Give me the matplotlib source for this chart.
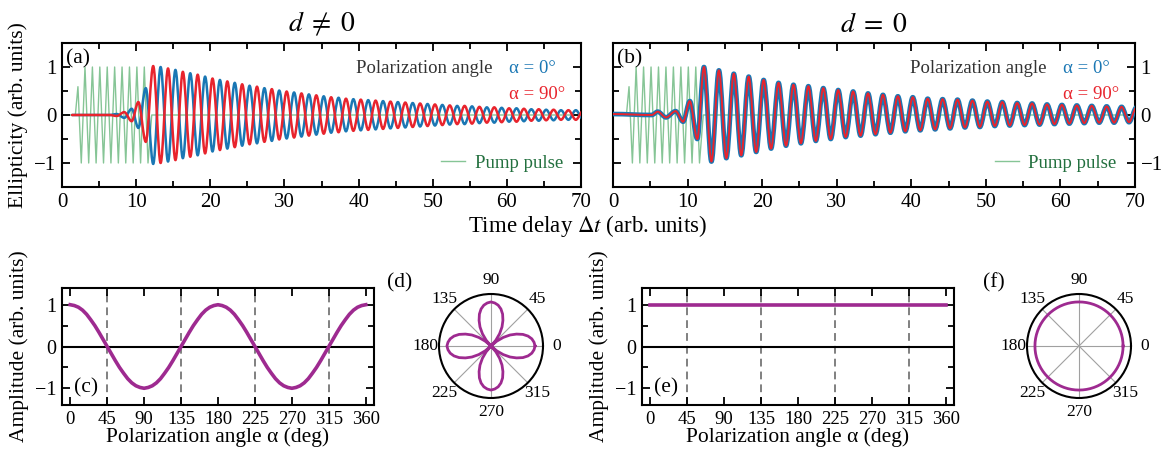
import numpy as np
import matplotlib
matplotlib.use("Agg")
import matplotlib.pyplot as plt
from matplotlib.path import Path
from matplotlib.patches import PathPatch
from matplotlib.ticker import MultipleLocator

plt.rcParams["font.family"] = ["Liberation Serif", "DejaVu Serif"]
plt.rcParams["mathtext.fontset"] = "stix"
plt.rcParams["axes.linewidth"] = 1.5

# ---- data -------------------------------------------------------------
# pump pulse (turning points)
t_pump = [0.0, 1.8, 2.15, 2.6, 3.1, 3.6, 4.1, 4.6, 5.1, 5.6, 6.1, 6.6, 7.1, 7.6,
          8.1, 8.6, 9.1, 9.6, 10.1, 10.6, 11.1, 11.6, 12.1, 70.0]
pump = [0.0, 0.0, 0.59, -1, 1, -1, 1, -1, 1, -1, 1, -1, 1, -1,
        1, -1, 1, -1, 1, -1, 1, -1, 0.0, 0.0]

# d != 0 : ellipticity extrema for alpha = 0 deg (alpha = 90 deg is mirrored)
t_a = [1.35, 6.4, 7.4, 8.4, 9.4, 10.3, 11.3,
       12.3, 13.3, 14.3, 15.3, 16.3, 17.3, 18.3, 19.3, 20.3, 21.3,
       22.3, 23.3, 24.3, 25.3, 26.3, 27.3, 28.3, 29.3, 30.3, 31.3,
       32.3, 33.3, 34.3, 35.3, 36.3, 37.3, 38.3, 39.3, 40.3, 41.3,
       42.3, 43.3, 44.3, 45.3, 46.3, 47.3, 48.3, 49.3, 50.3, 51.3,
       52.3, 53.3, 54.3, 55.3, 56.3, 57.3, 58.3, 59.3, 60.3, 61.3,
       62.3, 63.3, 64.3, 65.3, 66.3, 67.3, 68.3, 69.3, 70.3]
ell_a = [0.0, 0.0, 0.02, -0.06, 0.13, -0.27, 0.56,
         -1.02, 1.0, -0.97, 0.94, -0.9, 0.87, -0.84, 0.8, -0.76, 0.73,
         -0.7, 0.67, -0.64, 0.61, -0.59, 0.56, -0.54, 0.51, -0.49, 0.47,
         -0.45, 0.43, -0.41, 0.39, -0.37, 0.36, -0.34, 0.33, -0.32, 0.31,
         -0.3, 0.29, -0.28, 0.27, -0.26, 0.25, -0.24, 0.23, -0.22, 0.21,
         -0.2, 0.19, -0.19, 0.18, -0.17, 0.16, -0.16, 0.15, -0.14, 0.14,
         -0.13, 0.12, -0.12, 0.11, -0.11, 0.1, -0.1, 0.1, -0.09]

# d = 0 : both polarizations give the same trace
t_b = [0.0, 5.2, 6.0, 7.1, 8.4, 9.4, 10.3, 11.3,
       12.2, 13.2, 14.2, 15.2, 16.2, 17.2, 18.2, 19.2, 20.2, 21.2,
       22.2, 23.2, 24.2, 25.2, 26.2, 27.2, 28.2, 29.2, 30.2, 31.2,
       32.2, 33.2, 34.2, 35.2, 36.2, 37.2, 38.2, 39.2, 40.2, 41.2,
       42.2, 43.2, 44.2, 45.2, 46.2, 47.2, 48.2, 49.2, 50.2, 51.2,
       52.2, 53.2, 54.2, 55.2, 56.2, 57.2, 58.2, 59.2, 60.2, 61.2,
       62.2, 63.2, 64.2, 65.2, 66.2, 67.2, 68.2, 69.2, 70.2]
ell_b = [0.02, 0.0, 0.07, -0.05, 0.08, -0.14, 0.29, -0.5,
         1.0, -0.97, 0.93, -0.9, 0.86, -0.84, 0.8, -0.77, 0.73, -0.7,
         0.67, -0.64, 0.63, -0.59, 0.6, -0.54, 0.56, -0.5, 0.52, -0.46,
         0.49, -0.43, 0.45, -0.4, 0.42, -0.37, 0.39, -0.34, 0.37, -0.32,
         0.34, -0.3, 0.33, -0.28, 0.32, -0.26, 0.3, -0.25, 0.28, -0.23,
         0.27, -0.22, 0.25, -0.21, 0.24, -0.2, 0.22, -0.19, 0.21, -0.18,
         0.2, -0.17, 0.19, -0.16, 0.18, -0.16, 0.17, -0.15, 0.16]

# oscillation amplitude vs polarization angle
alpha = list(range(0, 361, 5))
amp_half = [1.0, 0.98, 0.94, 0.87, 0.77, 0.64, 0.5, 0.34, 0.17, 0.0,
            -0.17, -0.34, -0.5, -0.64, -0.77, -0.87, -0.94, -0.98, -1.0,
            -0.98, -0.94, -0.87, -0.77, -0.64, -0.5, -0.34, -0.17, 0.0,
            0.17, 0.34, 0.5, 0.64, 0.77, 0.87, 0.94, 0.98, 1.0]
amp_c = amp_half + amp_half[1:]
amp_e = [1.0] * len(alpha)  # flat response for d = 0
nodes = [45, 135, 225, 315]

BLUE = "#1a77b4"
RED = "#e8242d"
GREEN = "#86c596"
GREEN_TXT = "#23703f"
PURPLE = "#9e2a90"
GREY_TXT = "#333333"


def smooth_path(t, y):
    # cubic segments with flat tangents at each turning point
    verts = [(t[0], y[0])]
    codes = [Path.MOVETO]
    for i in range(1, len(t)):
        h = (t[i] - t[i - 1]) / 3.0
        verts += [(t[i - 1] + h, y[i - 1]), (t[i] - h, y[i]), (t[i], y[i])]
        codes += [Path.CURVE4] * 3
    return Path(verts, codes)


def trace(ax, t, y, color, lw, z):
    ax.add_patch(PathPatch(smooth_path(t, y), fc="none", ec=color, lw=lw,
                           zorder=z, capstyle="round", joinstyle="round"))


W, H = 1161, 454
fig = plt.figure(figsize=(W / 100, H / 100), dpi=100)


def box(l, t, r, b):
    return [l / W, 1 - b / H, (r - l) / W, (b - t) / H]


ax_a = fig.add_axes(box(62, 43, 581, 187))
ax_b = fig.add_axes(box(613, 43, 1135, 187))
ax_c = fig.add_axes(box(62, 288, 374, 405))
ax_e = fig.add_axes(box(642, 288, 954, 405))
ax_d = fig.add_axes(box(439, 294, 543, 398), projection="polar")
ax_f = fig.add_axes(box(1027, 294, 1131, 398), projection="polar")


def style(ax, size):
    ax.tick_params(which="both", direction="in", top=True, right=True,
                   width=1.3, labelsize=size, pad=4)
    ax.tick_params(which="major", length=6)
    ax.tick_params(which="minor", length=4)


# ---- time traces ------------------------------------------------------
for ax, tag, title in [(ax_a, "(a)", r"$d \;\neq\; 0$"),
                       (ax_b, "(b)", r"$d \;=\; 0$")]:
    pump_line, = ax.plot(t_pump, pump, color=GREEN, lw=1.0, zorder=1,
                         label="Pump pulse")
    ax.set_xlim(0, 70)
    ax.set_ylim(-1.5, 1.5)
    ax.set_xticks(range(0, 71, 10))
    ax.set_yticks([-1, 0, 1])
    ax.xaxis.set_minor_locator(MultipleLocator(5))
    ax.yaxis.set_minor_locator(MultipleLocator(0.5))
    style(ax, 15)
    ax.set_title(title, fontsize=20, pad=8)
    ax.text(0.008, 0.89, tag, transform=ax.transAxes, fontsize=15.5,
            va="center", ha="left")
    ax.text(0.83, 0.82, "Polarization angle", transform=ax.transAxes,
            fontsize=13.5, color=GREY_TXT, ha="right", va="center")
    ax.text(0.862, 0.82, "α = 0°", transform=ax.transAxes, fontsize=13.5,
            color=BLUE, ha="left", va="center")
    ax.text(0.862, 0.645, "α = 90°", transform=ax.transAxes, fontsize=13.5,
            color=RED, ha="left", va="center")
    ax.legend(handles=[pump_line], loc="center right",
              bbox_to_anchor=(0.965, 0.165), frameon=False, fontsize=13.5,
              handlelength=1.3, handletextpad=0.5, borderpad=0,
              borderaxespad=0, labelcolor=GREEN_TXT)

trace(ax_a, t_a, ell_a, BLUE, 1.8, 3)
trace(ax_a, t_a, [-v for v in ell_a], RED, 1.8, 4)

trace(ax_b, t_b, ell_b, BLUE, 3.4, 3)
trace(ax_b, t_b, ell_b, RED, 1.4, 4)
ax_b.tick_params(labelleft=False, labelright=True)

ax_a.set_ylabel("Ellipticity (arb. units)", fontsize=15.5)
ax_a.yaxis.set_label_coords(-0.066, 0.5)
fig.text(588 / W, 1 - 226 / H, r"Time delay $\Delta t$ (arb. units)",
         fontsize=16.5, ha="center", va="center")

# ---- amplitude vs angle ----------------------------------------------
for ax, amp, tag in [(ax_c, amp_c, "(c)"), (ax_e, amp_e, "(e)")]:
    ax.axhline(0, color="black", lw=1.5, zorder=2)
    for a in nodes:
        ax.axvline(a, color="#808080", lw=1.4, ls=(0, (4, 2.6)), zorder=1)
    ax.plot(alpha, amp, color=PURPLE, lw=2.6, zorder=3)
    ax.set_xlim(-10, 370)
    ax.set_ylim(-1.4, 1.4)
    ax.set_xticks(range(0, 361, 45))
    ax.set_yticks([-1, 0, 1])
    ax.yaxis.set_minor_locator(MultipleLocator(0.5))
    style(ax, 14.5)
    ax.tick_params(axis="x", labelsize=13.5)
    ax.set_xlabel("Polarization angle α (deg)", fontsize=15.5)
    ax.xaxis.set_label_coords(0.5, -0.19)
    ax.set_ylabel("Amplitude (arb. units)", fontsize=15.5)
    ax.yaxis.set_label_coords(-0.105, 0.5)
    ax.text(0.04, 0.145, tag, transform=ax.transAxes, fontsize=15.5,
            va="center", ha="left")

# ---- polar plots -----------------------------------------------------
theta = np.deg2rad(alpha)
for ax, amp, tag, x0 in [(ax_d, amp_c, "(d)", 387), (ax_f, amp_e, "(f)", 983)]:
    ax.plot(theta, np.abs(amp), color=PURPLE, lw=2.0, zorder=3)
    ax.set_ylim(0, 1.18)
    ax.set_yticks([])
    ax.set_xticks(np.deg2rad(range(0, 360, 45)),
                  labels=[str(a) for a in range(0, 360, 45)])
    ax.set_xticks(np.deg2rad([a for a in range(0, 360, 15) if a % 45]),
                  minor=True)
    ax.xaxis.grid(True, color="#a0a0a0", lw=0.8)
    ax.tick_params(axis="x", which="both", direction="in", length=4,
                   width=1.0, labelsize=12.5, pad=3)
    for tk, a in zip(ax.xaxis.get_major_ticks(), range(0, 360, 45)):
        if a % 90 == 0:
            for ln in (tk.tick1line, tk.tick2line):
                ln.set_markeredgewidth(2.4)
                ln.set_markersize(7)
    ax.spines["polar"].set_linewidth(1.5)
    fig.text(x0 / W, 1 - 283 / H, tag, fontsize=15.5, ha="left", va="center")

fig.savefig("out.png", dpi=100)
